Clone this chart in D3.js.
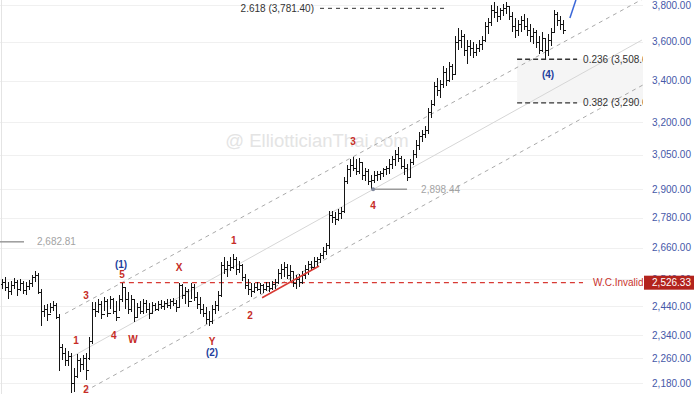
<!DOCTYPE html>
<html lang="en">
<head>
<meta charset="UTF-8" />
<title>Elliott wave chart</title>
<script src="https://d3js.org/d3.v7.min.js"></script>
<style>
  html, body { margin: 0; padding: 0; background: #fff; }
  svg { display: block; font-family: "Liberation Sans", Arial, sans-serif; }
  .bar { stroke: #151515; stroke-width: 1; shape-rendering: crispEdges; fill: none; }
  .grid line { stroke: #f0f0f0; shape-rendering: crispEdges; }
  .wave { font-size: 10px; font-weight: bold; text-anchor: middle; dominant-baseline: central; }
</style>
</head>
<body>
<svg id="chart" width="700" height="394"></svg>
<script>
// OHLC bars, oldest first
const opens = [
  2522,2530,2511,2497,2519,2530,2504,2526,2500,2515,2526,2548,2556,
  2493,2425,2432,2411,2439,2446,
  2403,2300,2277,2254,2267,2179,2202,2254,2241,2260,2260,2320,
  2432,2425,2449,2411,2460,2418,2467,2425,2403,2467,2511,2467,
  2432,2467,2403,2439,2425,2453,2432,2418,2446,2432,2449,2442,2453,2446,2460,2453,
  2439,2519,2482,2497,2460,2511,2475,2449,2432,2418,2396,2389,2432,2446,2482,
  2593,2578,2593,2586,2616,2578,2593,2548,2519,2504,2497,2511,2504,2519,2504,2515,2508,2522,
  2530,2563,2578,2586,2556,2570,2526,2541,2530,2556,2578,2597,2586,2608,2616,2631,2646,
  2670,2789,2781,2773,2798,2806,2932,2984,3005,2992,2975,3019,2958,2975,2932,
  2940,2958,2966,2970,2984,2992,3010,3028,3054,3036,3001,2992,2949,3019,3054,3095,3136,3145,
  3163,3248,3286,3374,3354,3384,3444,3404,3474,
  3434,3599,3609,3631,3557,3578,3567,3547,3567,3588,
  3609,3685,3706,3772,3761,3739,3772,3783,3794,
  3739,3685,3663,3695,3717,3685,3663,3631,3652,3599,3557,3620,3557,3609,3652,3750,3717,3695
];
const highs = [
  2541,2548,2530,2533,2545,2537,2541,2533,2530,2537,2556,2570,2563,
  2504,2446,2449,2453,2460,2453,
  2411,2310,2294,2284,2277,2228,2274,2260,2270,2277,2334,2456,
  2456,2467,2460,2475,2467,2478,2471,2460,2482,2526,2511,2493,
  2482,2467,2453,2460,2467,2464,2453,2456,2453,2460,2464,2460,2467,2467,2471,2464,
  2527,2522,2511,2504,2526,2522,2493,2475,2449,2439,2425,2446,2460,2497,2604,
  2623,2608,2623,2635,2623,2608,2597,2559,2541,2526,2526,2530,2526,2522,2530,2530,2533,2541,
  2578,2597,2604,2597,2593,2570,2556,2559,2570,2593,2608,2608,2623,2623,2639,2662,2678,
  2806,2806,2802,2814,2822,2949,3005,3028,3041,3028,3036,3019,2992,2984,2958,
  2975,2975,2979,2992,3001,3028,3045,3072,3086,3045,3028,3010,3028,3072,3117,3154,3163,3182,
  3267,3305,3394,3414,3404,3474,3464,3495,3485,
  3631,3674,3663,3641,3609,3609,3599,3588,3609,3631,
  3706,3728,3800,3817,3794,3783,3806,3817,3794,
  3761,3728,3717,3739,3750,3728,3695,3674,3663,3631,3652,3620,3641,3674,3772,3761,3739,3717
];
const lows = [
  2504,2497,2467,2482,2504,2478,2497,2486,2482,2500,2511,2530,2486,
  2369,2403,2389,2418,2425,2396,
  2218,2254,2234,2234,2148,2151,2195,2215,2221,2189,2254,2310,
  2403,2418,2396,2425,2403,2432,2411,2389,2425,2456,2432,2414,
  2421,2386,2403,2414,2411,2418,2396,2418,2425,2425,2432,2428,2435,2432,2442,2421,
  2439,2467,2449,2439,2467,2460,2432,2414,2403,2379,2369,2379,2411,2425,2475,
  2559,2548,2570,2578,2556,2563,2533,2504,2482,2475,2489,2497,2486,2489,2497,2493,2500,2504,
  2522,2541,2548,2541,2533,2511,2504,2511,2522,2541,2556,2570,2578,2586,2601,2616,2631,
  2654,2757,2749,2765,2773,2798,2919,2949,2975,2958,2966,2940,2932,2915,2898,
  2923,2932,2940,2949,2958,2966,2984,3001,3019,2984,2958,2932,2949,3005,3036,3072,3108,3127,
  3145,3220,3276,3325,3315,3364,3374,3394,3404,
  3434,3557,3567,3526,3485,3526,3516,3526,3547,3557,
  3599,3641,3685,3728,3706,3717,3739,3750,3717,
  3652,3620,3631,3652,3663,3631,3599,3588,3567,3536,3547,3505,3526,3578,3652,3685,3663,3641
];
const closes = [
  2530,2511,2497,2519,2530,2504,2526,2500,2515,2526,2548,2556,2493,
  2425,2432,2411,2439,2446,2403,
  2300,2277,2254,2267,2179,2202,2254,2241,2260,2221,2320,2432,
  2425,2449,2411,2460,2418,2467,2425,2403,2467,2511,2467,2432,
  2467,2403,2439,2425,2453,2432,2418,2446,2432,2449,2442,2453,2446,2460,2453,2439,
  2519,2482,2497,2460,2511,2475,2449,2432,2418,2396,2389,2432,2446,2482,2593,
  2578,2593,2586,2616,2578,2593,2548,2519,2504,2497,2511,2504,2519,2504,2515,2508,2522,2530,
  2563,2578,2586,2556,2570,2526,2541,2530,2556,2578,2597,2586,2608,2616,2631,2646,2670,
  2789,2781,2773,2798,2806,2932,2984,3005,2992,2975,3019,2958,2975,2932,2940,
  2958,2966,2970,2984,2992,3010,3028,3054,3036,3001,2992,2949,3019,3054,3095,3136,3145,3163,
  3248,3286,3374,3354,3384,3444,3404,3474,3434,
  3599,3609,3631,3557,3578,3567,3547,3567,3588,3609,
  3685,3706,3772,3761,3739,3772,3783,3794,3739,
  3685,3663,3695,3717,3685,3663,3631,3652,3599,3557,3620,3557,3609,3652,3750,3717,3695,3663
];

const yTicks = [2180, 2260, 2340, 2440, 2540, 2660, 2780, 2900, 3050, 3200, 3400, 3600, 3800];

// wave labels: [bar index, price, text, colour]
const waveLabels = [
  [24.7, 2320, "1", "red"], [28, 2160, "2", "red"], [28, 2478, "3", "red"],
  [37.3, 2337, "4", "red"], [40, 2556, "5", "red"], [39.7, 2593, "(1)", "blue"],
  [43.7, 2324, "W", "red"], [59, 2582, "X", "red"], [70, 2317, "Y", "red"],
  [70, 2280, "(2)", "blue"], [77.3, 2689, "1", "red"], [82.7, 2407, "2", "red"],
  [117, 3108, "3", "red"], [123.7, 2830, "4", "red"], [182, 3429, "(4)", "blue"]
];

// channel lines: [[index, price], [index, price]]
const channelUpper = [[21, 2414], [216, 3856]];
const channelMid = [[23, 2264], [213.3, 3609]];
const channelLower = [[27.7, 2154], [213.7, 3379]];
const waveTrend = [[86.7, 2471], [105.7, 2589]];
const blueLeg = [[189.3, 3728], [191.3, 3828]];

const invalidLevel = 2526.33;
const markLevelA = 2682.81;
const markLevelB = 2898.44;
const fibTarget = { label: "2.618 (3,781.40)", price: 3781.40 };
const fibRetrace = [
  { label: "0.236 (3,508.61)", price: 3508.61 },
  { label: "0.382 (3,290.64)", price: 3290.64 }
];

const width = 700, height = 394;
const plotRight = 643;

const x = d3.scaleLinear().domain([0, opens.length - 1]).range([2, 563]);
const y = d3.scaleLog().domain([2145, 3828]).range([height, 0]);

const svg = d3.select("#chart");

svg.append("defs").append("clipPath").attr("id", "plot")
  .append("rect").attr("x", 0).attr("y", 0).attr("width", plotRight).attr("height", height);

// grid
svg.append("g").attr("class", "grid")
  .selectAll("line").data(yTicks).join("line")
  .attr("x1", 0).attr("x2", plotRight)
  .attr("y1", d => Math.round(y(d)) + 0.5).attr("y2", d => Math.round(y(d)) + 0.5);

svg.append("line").attr("x1", 1.5).attr("x2", 1.5).attr("y1", 0).attr("y2", height)
  .attr("stroke", "#e4e4e4");

// watermark
svg.append("text").attr("x", 317).attr("y", 147).attr("text-anchor", "middle")
  .attr("font-size", 18.5).attr("fill", "#e4e4e4").text("@ ElliotticianThai.com");

const plot = svg.append("g").attr("clip-path", "url(#plot)");
const line = d3.line().x(d => x(d[0])).y(d => y(d[1]));

// fib box
plot.append("rect")
  .attr("x", x(171.7)).attr("y", y(fibRetrace[0].price))
  .attr("width", plotRight - x(171.7))
  .attr("height", y(fibRetrace[1].price) - y(fibRetrace[0].price))
  .attr("fill", "#f5f5f5");

// channel
plot.append("path").attr("d", line(channelUpper)).attr("stroke", "#aaa")
  .attr("stroke-dasharray", "4,4").attr("fill", "none");
plot.append("path").attr("d", line(channelMid)).attr("stroke", "#d6d6d6").attr("fill", "none");
plot.append("path").attr("d", line(channelLower)).attr("stroke", "#aaa")
  .attr("stroke-dasharray", "4,4").attr("fill", "none");

// invalidation level
plot.append("line")
  .attr("x1", x(39.3)).attr("x2", 583)
  .attr("y1", y(invalidLevel)).attr("y2", y(invalidLevel))
  .attr("stroke", "#d83a34").attr("stroke-width", 1.3).attr("stroke-dasharray", "5,4");
plot.append("text").attr("x", 593).attr("y", y(invalidLevel)).attr("dy", "0.35em")
  .attr("font-size", 10).attr("fill", "#c9332d").text("W.C.Invalid");

// bars
plot.append("g").selectAll("path").data(opens).join("path")
  .attr("class", "bar")
  .attr("d", (d, i) => {
    const cx = Math.round(x(i)) + 0.5;
    return `M${cx},${y(highs[i])}V${y(lows[i])}` +
      `M${cx - 2},${Math.round(y(opens[i])) + 0.5}H${cx}` +
      `M${cx},${Math.round(y(closes[i])) + 0.5}H${cx + 2}`;
  });

// trend lines
plot.append("path").attr("d", line(waveTrend)).attr("stroke", "#d83a34")
  .attr("stroke-width", 1.5).attr("fill", "none");
plot.append("path").attr("d", line(blueLeg)).attr("stroke", "#3a67d8")
  .attr("stroke-width", 1.5).attr("fill", "none");

// level A marker
plot.append("line").attr("x1", 0).attr("x2", 24)
  .attr("y1", y(markLevelA)).attr("y2", y(markLevelA))
  .attr("stroke", "#9a9a9a").attr("stroke-width", 1.5);
plot.append("text").attr("x", 37).attr("y", y(markLevelA)).attr("dy", "0.35em")
  .attr("font-size", 10).attr("fill", "#a3a3a3").text(d3.format(",.2f")(markLevelA));

// level B marker
plot.append("line").attr("x1", x(123.7)).attr("x2", x(135))
  .attr("y1", y(markLevelB)).attr("y2", y(markLevelB))
  .attr("stroke", "#9a9a9a").attr("stroke-width", 1.5);
plot.append("circle").attr("cx", x(123.7)).attr("cy", y(markLevelB)).attr("r", 2)
  .attr("fill", "#7f879c");
plot.append("text").attr("x", x(139.7)).attr("y", y(markLevelB)).attr("dy", "0.35em")
  .attr("font-size", 10).attr("fill", "#a3a3a3").text(d3.format(",.2f")(markLevelB));

// fib levels
plot.append("text").attr("x", x(104)).attr("y", y(fibTarget.price)).attr("dy", "0.35em")
  .attr("text-anchor", "end").attr("font-size", 10).attr("fill", "#333").text(fibTarget.label);
plot.append("line").attr("x1", x(106)).attr("x2", x(147.7))
  .attr("y1", y(fibTarget.price)).attr("y2", y(fibTarget.price))
  .attr("stroke", "#333").attr("stroke-dasharray", "4,4");

plot.selectAll(".fibline").data(fibRetrace).join("line").attr("class", "fibline")
  .attr("x1", x(171.7)).attr("x2", x(191.7))
  .attr("y1", d => y(d.price)).attr("y2", d => y(d.price))
  .attr("stroke", "#333").attr("stroke-width", 1.3).attr("stroke-dasharray", "5,3");
plot.selectAll(".fibtext").data(fibRetrace).join("text").attr("class", "fibtext")
  .attr("x", x(193.7)).attr("y", d => y(d.price)).attr("dy", "0.35em")
  .attr("font-size", 10).attr("fill", "#333").text(d => d.label);

// wave labels
plot.selectAll(".wave").data(waveLabels).join("text").attr("class", "wave")
  .attr("x", d => x(d[0])).attr("y", d => y(d[1]))
  .attr("font-size", d => d[2] === "(4)" ? 11 : 10)
  .attr("fill", d => d[3] === "red" ? "#c62d27" : "#1f3f9e")
  .text(d => d[2]);

// price axis
const axis = svg.append("g").attr("transform", "translate(691,0)")
  .call(d3.axisLeft(y).tickValues(yTicks).tickFormat(d3.format(",.2f")).tickSize(0).tickPadding(0));
axis.select(".domain").remove();
axis.attr("font-family", null).attr("font-size", 10);
axis.selectAll("text").attr("fill", "#4658a8");

// invalidation badge
svg.append("rect").attr("x", 644).attr("y", y(invalidLevel) - 7)
  .attr("width", 50).attr("height", 14).attr("fill", "#b3231d");
svg.append("text").attr("x", 691).attr("y", y(invalidLevel)).attr("dy", "0.35em")
  .attr("text-anchor", "end").attr("font-size", 10).attr("fill", "#fff")
  .text(d3.format(",.2f")(invalidLevel));
</script>
</body>
</html>
